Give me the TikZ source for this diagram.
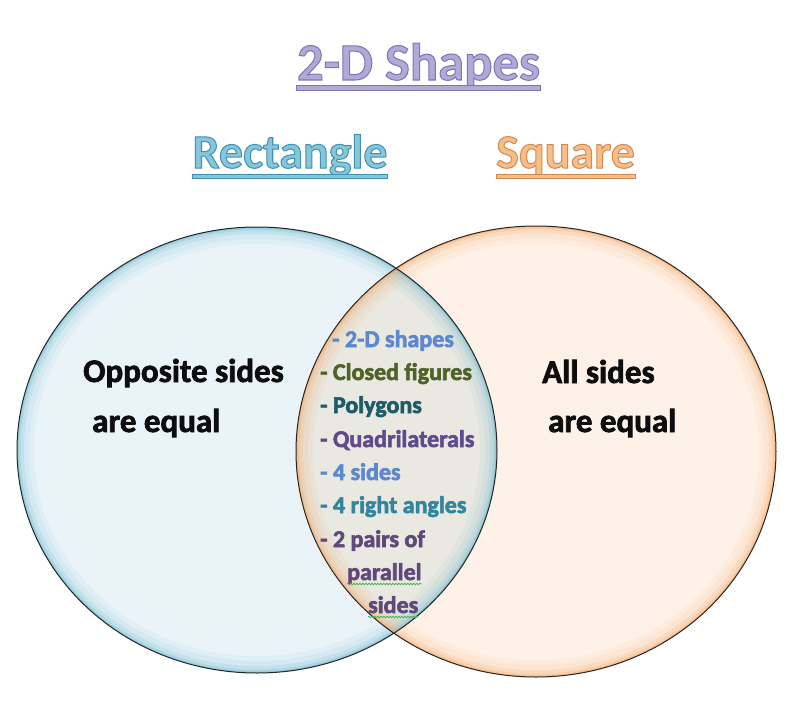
\documentclass[tikz,border=0pt]{standalone}
\usepackage{fontspec}
\setmainfont{Carlito}
\usetikzlibrary{decorations.pathmorphing}
\definecolor{titleFill}{HTML}{B3A9D6}
\definecolor{titleLine}{HTML}{7F74B5}
\definecolor{rectFill}{HTML}{86C5DA}
\definecolor{rectLine}{HTML}{3F93B0}
\definecolor{sqFill}{HTML}{F9BD8A}
\definecolor{sqLine}{HTML}{D08A50}
\definecolor{leftFill}{HTML}{EAF4F8}
\definecolor{rightFill}{HTML}{FEF2E8}
\definecolor{midFill}{HTML}{E9E8E1}
\definecolor{glowL}{HTML}{4BACC6}
\definecolor{glowR}{HTML}{F79646}
\definecolor{bodyInk}{HTML}{0D0D0D}
\definecolor{cBlue}{HTML}{5B88CF}
\definecolor{cOlive}{HTML}{4F6228}
\definecolor{cTeal}{HTML}{1F5A68}
\definecolor{cPurple}{HTML}{5F4B8B}
\definecolor{cTeal2}{HTML}{31859C}
\definecolor{cPurple2}{HTML}{5F497A}
\definecolor{spellGreen}{HTML}{3CB043}
% outline text: fill in current colour, stroke in the given rgb triple
\newcommand{\rimtxt}[3]{\special{pdf:literal direct 2 Tr #1 w #2 RG}#3\special{pdf:literal direct 0 Tr}}
% heavier text: stroke in the text's own colour
\newcommand{\heavytxt}[2]{\special{pdf:literal direct 2 Tr #1 w}#2\special{pdf:literal direct 0 Tr}}
\begin{document}
\begin{tikzpicture}[x=1pt,y=-1pt,
  lbl/.style={inner sep=0pt, anchor=base west, font=\bfseries\fontsize{24}{28}\selectfont},
  bodytxt/.style={inner sep=0pt, anchor=base west, font=\bfseries\fontsize{33}{38}\selectfont, text=bodyInk},
  head/.style={inner sep=0pt, anchor=base, font=\bfseries\fontsize{48}{56}\selectfont},
  uline/.style={line width=0.8pt},
  squig/.style={draw=spellGreen, line width=0.7pt, decorate, decoration={snake, amplitude=0.8pt, segment length=3pt}},
  rim/.style={draw=black!85, line width=1pt}]
\useasboundingbox (0,0) rectangle (804,728);
\fill[white] (0,0) rectangle (804,728);
% ellipse fills
\fill[leftFill] (257,450) ellipse [x radius=240pt, y radius=223pt];
\fill[rightFill] (536,451.5) ellipse [x radius=240pt, y radius=225.5pt];
\begin{scope}
  \clip (257,450) ellipse [x radius=240pt, y radius=223pt];
  \fill[midFill] (536,451.5) ellipse [x radius=240pt, y radius=225.5pt];
\end{scope}
% inner glows
\begin{scope}
  \clip (257,450) ellipse [x radius=240pt, y radius=223pt];
  \foreach \w/\o in {34/0.06,24/0.08,14/0.12,7/0.18,3/0.3}{
    \draw[glowL, line width=\w pt, opacity=\o] (257,450) ellipse [x radius=240pt, y radius=223pt];}
\end{scope}
\begin{scope}
  \clip (536,451.5) ellipse [x radius=240pt, y radius=225.5pt];
  \foreach \w/\o in {34/0.06,24/0.08,14/0.12,7/0.18,3/0.3}{
    \draw[glowR, line width=\w pt, opacity=\o] (536,451.5) ellipse [x radius=240pt, y radius=225.5pt];}
\end{scope}
% rims
\draw[rim] (257,450) ellipse [x radius=240pt, y radius=223pt];
\draw[rim] (536,451.5) ellipse [x radius=240pt, y radius=225.5pt];
% titles
\node[head, font=\bfseries\fontsize{52.7}{60}\selectfont, text=titleFill] (title) at (418.5,80)
  {\rimtxt{1}{0.498 0.455 0.71}{2-D Shapes}};
\draw[uline, draw=titleLine, fill=titleFill] ([yshift=-5pt]title.base west) rectangle ([yshift=-10pt]title.base east);
\node[head, text=rectFill] (rect) at (290,168) {\rimtxt{1}{0.247 0.576 0.69}{Rectangle}};
\draw[uline, draw=rectLine, fill=rectFill] ([yshift=-6pt]rect.base west) rectangle ([yshift=-10pt]rect.base east);
\node[head, text=sqFill] (sq) at (565.5,168) {\rimtxt{1}{0.816 0.541 0.314}{Square}};
\draw[uline, draw=sqLine, fill=sqFill] ([yshift=-6pt]sq.base west) rectangle ([yshift=-10pt]sq.base east);
% body texts
\node[bodytxt] (opp1) at (83,382) {\heavytxt{0.7}{Opposite sides}};
\node[bodytxt] (opp2) at (92,432) {\heavytxt{0.7}{are equal}};
\node[bodytxt] (all1) at (542,383) {\heavytxt{0.7}{All sides}};
\node[bodytxt] (all2) at (548,432) {\heavytxt{0.7}{are equal}};
% shared list
\node[lbl, text=cBlue] (l1) at (332,347) {\heavytxt{0.6}{- 2-D shapes}};
\node[lbl, text=cOlive] (l2) at (320,380) {\heavytxt{0.6}{- Closed figures}};
\node[lbl, text=cTeal] (l3) at (320,413) {\heavytxt{0.6}{- Polygons}};
\node[lbl, text=cPurple] (l4) at (320,447) {\heavytxt{0.6}{- Quadrilaterals}};
\node[lbl, text=cBlue] (l5) at (320,480) {\heavytxt{0.6}{- 4 sides}};
\node[lbl, text=cTeal2] (l6) at (320,513) {\heavytxt{0.6}{- 4 right angles}};
\node[lbl, text=cPurple2] (l7) at (320,547) {\heavytxt{0.6}{- 2 pairs of}};
\node[lbl, text=cPurple2] (l8) at (347,580) {\heavytxt{0.6}{parallel}};
\node[lbl, text=cPurple2] (l9) at (368,613) {\heavytxt{0.6}{sides}};
\draw[squig] ([yshift=-4pt]l8.base west) -- ([yshift=-4pt]l8.base east);
\draw[squig] ([yshift=-4pt]l9.base west) -- ([yshift=-4pt]l9.base east);
\end{tikzpicture}
\end{document}
